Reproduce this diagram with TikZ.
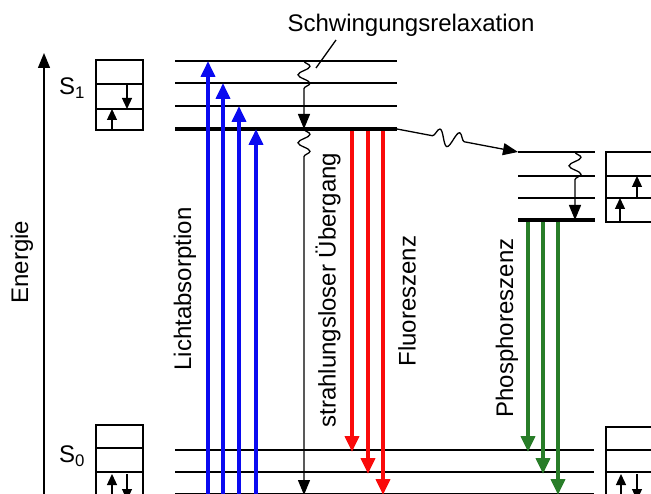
\documentclass[tikz,border=0pt]{standalone}
\usepackage{fontspec}
\setmainfont{Liberation Sans}
\usetikzlibrary{arrows.meta,decorations.pathmorphing}

\definecolor{absblue}{RGB}{10,10,240}
\definecolor{fluored}{RGB}{250,10,10}
\definecolor{phosgreen}{RGB}{40,125,40}

\tikzset{
  level/.style={line width=1.6pt},
  ground/.style={line width=3.2pt},
  stbox/.style={line width=1.5pt},
  tip/.style={-{Triangle[length=15pt,width=12pt]}},
  spin/.style={line width=1.3pt,-{Triangle[length=11pt,width=10pt]}},
  photon/.style={line width=3.8pt,-{Triangle[length=16pt,width=14pt]}},
  thin/.style={line width=1.3pt},
  lbl/.style={font=\fontsize{24}{28}\selectfont, inner sep=0pt},
}

\begin{document}
\begin{tikzpicture}[x=1pt,y=-1pt]
\useasboundingbox (0,0) rectangle (651,494);

% energy axis
\draw[thin,tip] (44,494) -- (44,53);
\node[lbl,rotate=90] (energie) at (22,262) {Energie};

% singlet S1 vibrational levels
\foreach \yy in {61,83,106} \draw[level] (175,\yy) -- (397,\yy);
\draw[ground] (175,129) -- (397,129);
\coordinate (s1l) at (175,129);
\coordinate (s1r) at (397,129);

% ground state S0 levels
\foreach \yy in {450,472,494} \draw[level] (175,\yy) -- (594,\yy);

% triplet T1 levels
\foreach \yy in {152,176,198} \draw[level] (518,\yy) -- (595,\yy);
\draw[ground] (518,220) -- (595,220);

% state boxes
\node[lbl] (s1) at (72,88) {S\textsubscript{1}};
\draw[stbox] (96,60) rectangle (143,130);
\draw[stbox] (96,84) -- (143,84) (96,109) -- (143,109);
\draw[spin] (127,84) -- (127,109);
\draw[spin] (112,130) -- (112,109);

\node[lbl] (s0) at (72,456) {S\textsubscript{0}};
\draw[stbox] (96,425) rectangle (143,500);
\draw[stbox] (96,448) -- (143,448) (96,472) -- (143,472);
\draw[spin] (112,500) -- (112,474);
\draw[spin] (127,474) -- (127,500);

\draw[stbox] (606,152) rectangle (660,222);
\draw[stbox] (606,176) -- (660,176) (606,198) -- (660,198);
\draw[spin] (620,222) -- (620,198);
\draw[spin] (637,198) -- (637,176);

\draw[stbox] (606,427) rectangle (660,500);
\draw[stbox] (606,450) -- (660,450) (606,472) -- (660,472);
\draw[spin] (621,500) -- (621,474);
\draw[spin] (637,474) -- (637,500);

% absorption
\draw[photon,absblue] (208,500) -- (208,61);
\draw[photon,absblue] (223,500) -- (223,83);
\draw[photon,absblue] (239,500) -- (239,106);
\draw[photon,absblue] (256,500) -- (256,129);
\node[lbl,rotate=90] (abs) at (185,289) {Lichtabsorption};

% fluorescence
\draw[photon,fluored] (352,131) -- (352,452);
\draw[photon,fluored] (368,131) -- (368,474);
\draw[photon,fluored] (383,131) -- (383,495);
\node[lbl,rotate=90] (fl) at (407,301) {Fluoreszenz};

% phosphorescence
\draw[photon,phosgreen] (528,222) -- (528,452);
\draw[photon,phosgreen] (543,222) -- (543,474);
\draw[photon,phosgreen] (558,222) -- (558,495);
\node[lbl,rotate=90] (ph) at (507,328) {Phosphoreszenz};

% vibrational relaxation in S1
\draw[thin,tip,decorate,decoration={snake,amplitude=6pt,segment length=17pt,post length=36pt}]
  (304,61) -- (304,129);
\node[lbl] (svr) at (411,25) {Schwingungsrelaxation};
\draw[thin] (336,40) -- (316,68);

% internal conversion S1 -> S0
\draw[thin,tip,decorate,decoration={snake,amplitude=6pt,segment length=17pt,post length=332pt}]
  (304,129) -- (304,495);
\node[lbl,rotate=90] (ic) at (328,290) {strahlungsloser Übergang};

% intersystem crossing S1 -> T1
\draw[thin,tip,decorate,decoration={snake,amplitude=8pt,segment length=20pt,pre length=36pt,post length=48pt}]
  (s1r) -- (518,152);

% vibrational relaxation in T1
\draw[thin,tip,decorate,decoration={snake,amplitude=6pt,segment length=17pt,post length=36pt}]
  (575,152) -- (575,220);
\end{tikzpicture}
\end{document}
